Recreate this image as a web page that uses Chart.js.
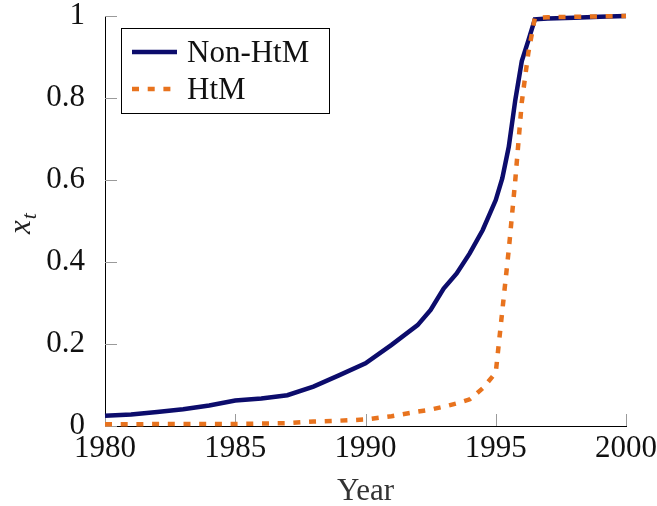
<!DOCTYPE html>
<html>
<head>
<meta charset="utf-8">
<script src="https://cdn.jsdelivr.net/npm/chart.js@4/dist/chart.umd.min.js"></script>
<style>
  html, body { margin: 0; padding: 0; background: #fff; }
  #wrap { width: 657px; height: 506px; }
</style>
</head>
<body>
<div id="wrap"><canvas id="chart" width="657" height="506"></canvas></div>
<script>
// Data
const years = [1980, 1981, 1982, 1983, 1984, 1985, 1986, 1987, 1988, 1989, 1990, 1991, 1992, 1992.5,
  1993, 1993.5, 1994, 1994.5, 1995, 1995.25, 1995.5, 1995.75, 1996, 1996.25, 1996.5, 1997, 1998, 1999, 2000];
const nonHtm = [0.025, 0.028, 0.034, 0.041, 0.050, 0.062, 0.067, 0.075, 0.096, 0.124, 0.153, 0.198, 0.246, 0.283,
  0.335, 0.372, 0.421, 0.478, 0.551, 0.604, 0.681, 0.795, 0.890, 0.940, 0.992, 0.994, 0.996, 0.998, 1.0];
const htm = [0.004, 0.004, 0.005, 0.005, 0.005, 0.005, 0.006, 0.007, 0.011, 0.013, 0.016, 0.024, 0.035, 0.040,
  0.047, 0.055, 0.065, 0.092, 0.130, 0.280, 0.430, 0.600, 0.790, 0.910, 0.995, 0.997, 0.998, 0.999, 1.0];
const seriesNames = ['Non-HtM', 'HtM'];
const xTicks = { min: 1980, max: 2000, step: 5 };
const yTicks = { min: 0, max: 1, step: 0.2 };

const navy = '#0c0c6c';
const orange = '#e8731e';
const serif = '"Liberation Serif", "Times New Roman", serif';
const dash = [7, 8.7];

const pts = arr => arr.map((v, i) => ({ x: years[i], y: v }));

// inward tick marks like pgfplots
const tickMarks = {
  id: 'tickMarks',
  beforeDatasetsDraw(chart) {
    const { ctx, chartArea: a, scales: { x, y } } = chart;
    ctx.save();
    ctx.strokeStyle = '#9a9a9a';
    ctx.lineWidth = 1;
    ctx.beginPath();
    x.ticks.forEach(t => {
      const px = Math.round(x.getPixelForValue(t.value)) + 0.5;
      ctx.moveTo(px, a.bottom); ctx.lineTo(px, a.bottom - 12);
    });
    y.ticks.forEach(t => {
      const py = Math.round(y.getPixelForValue(t.value)) + 0.5;
      ctx.moveTo(a.left, py); ctx.lineTo(a.left + 12, py);
    });
    ctx.stroke();
    ctx.restore();
  }
};

// boxed legend + italic y label
const extras = {
  id: 'extras',
  afterDraw(chart) {
    const ctx = chart.ctx;
    ctx.save();
    // legend box
    ctx.fillStyle = '#fff';
    ctx.fillRect(121, 28, 208, 85);
    ctx.strokeStyle = '#000';
    ctx.lineWidth = 1;
    ctx.strokeRect(121.5, 28.5, 208, 85);
    const rows = [52, 89];
    chart.data.datasets.forEach((ds, i) => {
      ctx.strokeStyle = ds.borderColor;
      ctx.lineWidth = ds.borderWidth;
      ctx.setLineDash(ds.borderDash || []);
      ctx.beginPath();
      ctx.moveTo(132, rows[i]); ctx.lineTo(177, rows[i]);
      ctx.stroke();
      ctx.setLineDash([]);
      ctx.fillStyle = '#111';
      ctx.font = '31px ' + serif;
      ctx.textBaseline = 'alphabetic';
      ctx.textAlign = 'left';
      ctx.fillText(ds.label, 187, rows[i] + 10);
    });
    // y axis label x_t
    ctx.translate(30, 234);
    ctx.rotate(-Math.PI / 2);
    ctx.fillStyle = '#222';
    ctx.font = 'italic 31px ' + serif;
    ctx.fillText('x', 0, 0);
    const w = ctx.measureText('x').width;
    ctx.font = 'italic 22px ' + serif;
    ctx.fillText('t', w + 1, 6);
    ctx.restore();
  }
};

new Chart(document.getElementById('chart'), {
  type: 'line',
  data: {
    datasets: [
      {
        label: seriesNames[0],
        data: pts(nonHtm),
        borderColor: navy,
        borderWidth: 4.5,
        pointRadius: 0,
        tension: 0,
        order: 1,
        clip: 8
      },
      {
        label: seriesNames[1],
        data: pts(htm),
        borderColor: orange,
        borderWidth: 4.5,
        borderDash: dash,
        pointRadius: 0,
        tension: 0,
        order: 0,
        clip: 8
      }
    ]
  },
  options: {
    responsive: false,
    animation: false,
    events: [],
    layout: { padding: { top: 16, right: 31, left: 0, bottom: 0 } },
    plugins: { legend: { display: false }, tooltip: { enabled: false } },
    scales: {
      x: {
        type: 'linear',
        min: xTicks.min, max: xTicks.max,
        grid: { display: false },
        border: { display: true, color: '#000', width: 1 },
        ticks: { stepSize: xTicks.step, color: '#111', padding: -4, maxRotation: 0,
          font: { family: serif, size: 31 }, callback: v => String(v) },
        title: { display: true, text: 'Year', color: '#333', font: { family: serif, size: 31 },
          padding: { top: 0, bottom: -4 } },
        afterFit(s) { s.height = 80; s.paddingLeft = 0; s.paddingRight = 0; }
      },
      y: {
        min: yTicks.min, max: yTicks.max,
        grid: { display: false },
        border: { display: true, color: '#000', width: 1 },
        ticks: { stepSize: yTicks.step, color: '#111', padding: 12,
          font: { family: serif, size: 31 }, callback: v => String(+v.toFixed(1)) },
        afterFit(s) { s.width = 105; s.paddingTop = 0; s.paddingBottom = 0; }
      }
    }
  },
  plugins: [tickMarks, extras]
});
</script>
</body>
</html>
